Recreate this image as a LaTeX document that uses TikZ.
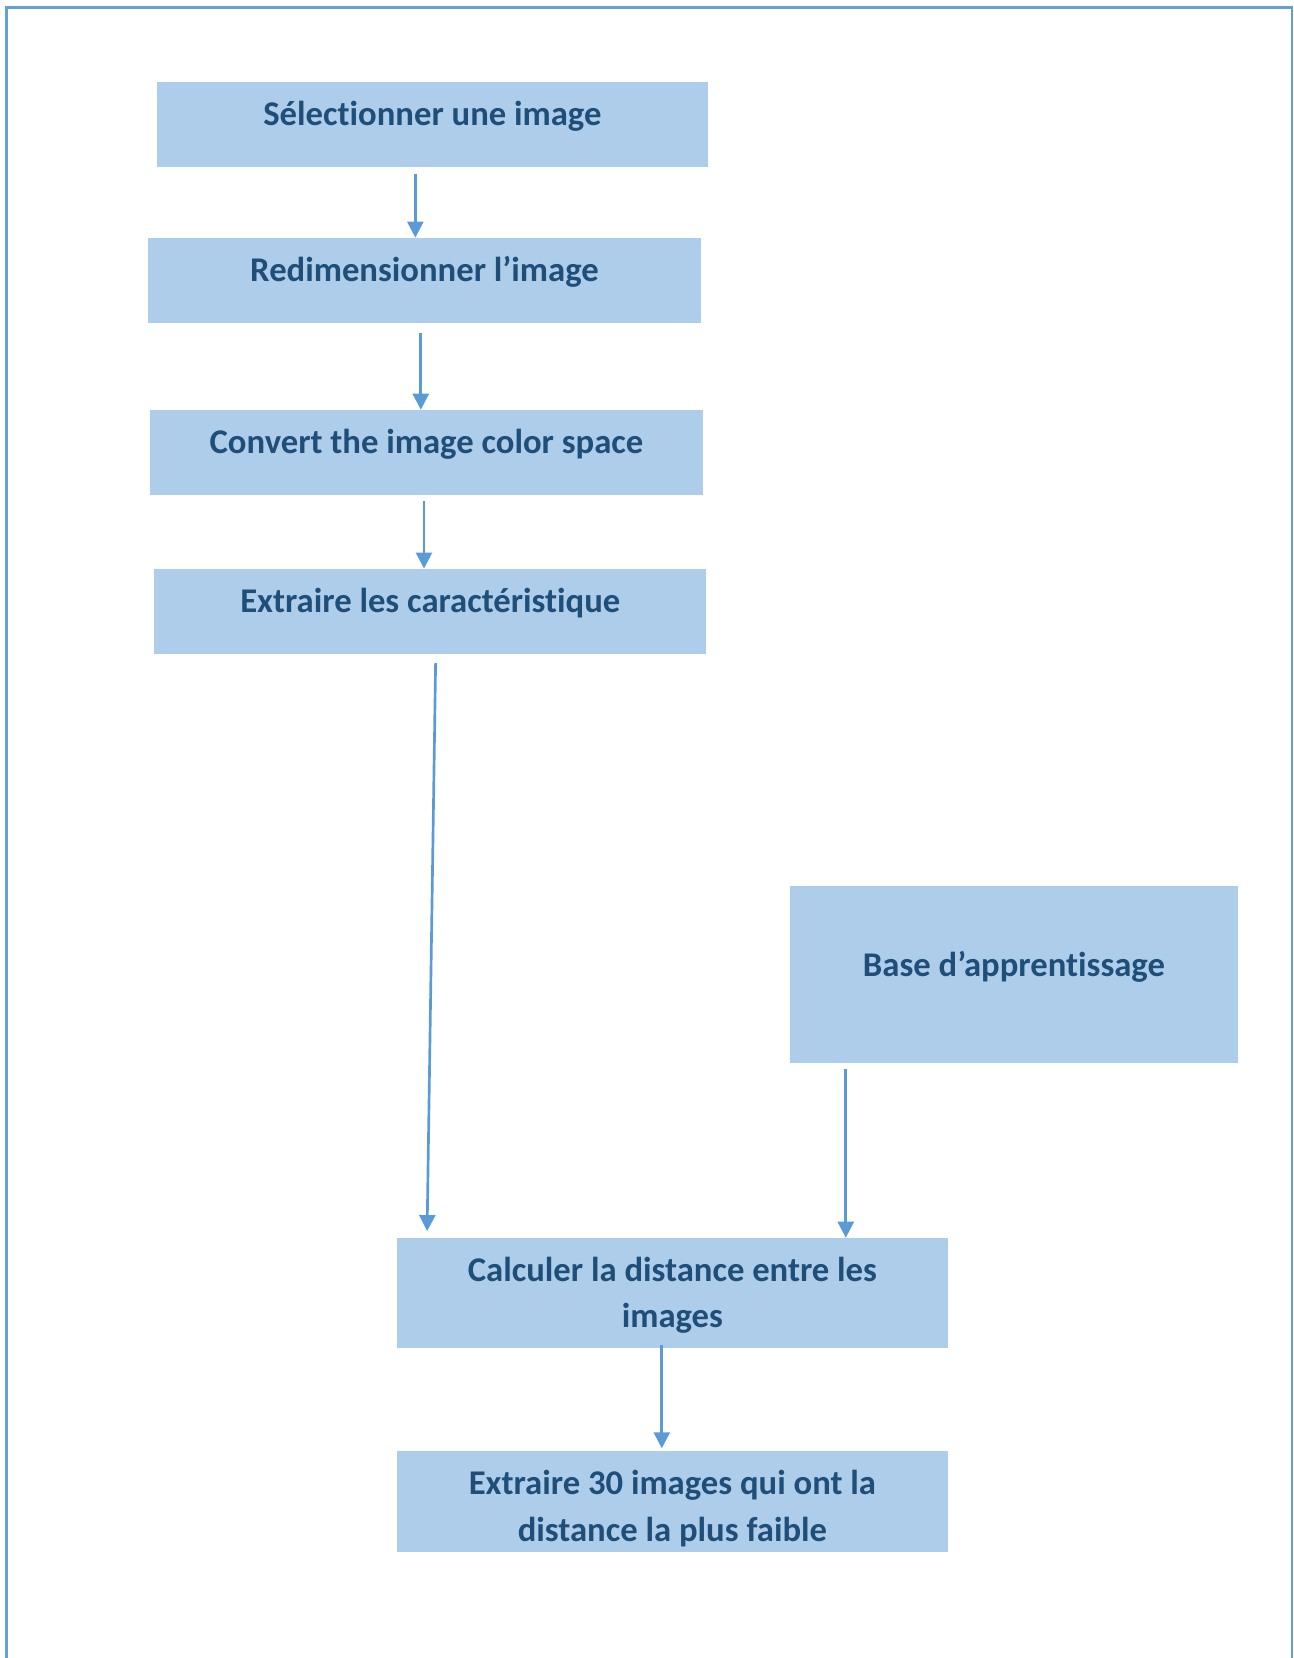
\documentclass[tikz,border=0pt]{standalone}
\usepackage{fontspec}
\setmainfont[Ligatures=NoCommon]{Carlito}
\usetikzlibrary{arrows.meta,fit}
\definecolor{boxfill}{HTML}{AECDEA}
\definecolor{txtblue}{HTML}{1F4E79}
\definecolor{linkblue}{HTML}{5B9BD5}
\definecolor{framecol}{HTML}{659FDA}
\tikzset{
  box/.style={fill=boxfill, draw=none, inner sep=0pt},
  txt/.style={font=\fontsize{26}{35}\selectfont\bfseries, text=txtblue, align=center, inner sep=0pt},
  link/.style={draw=linkblue, line width=2pt, -{Triangle[length=12pt,width=12pt]}},
  frame/.style={draw=framecol, line width=2pt}
}
\begin{document}
\begin{tikzpicture}[x=0.75pt,y=-0.75pt]
\useasboundingbox (0,0) rectangle (1294,1658);
\coordinate (fbl) at (6.3,1660);
\coordinate (fbr) at (1292,1660);
\draw[frame] (fbl) -- (6.3,7.4) -- (1292,7.4) -- (fbr);

\node[box, fit={(156.5,82.5) (708.3,167)}] (b1) {};
\node[box, fit={(148,237.9) (701,323.5)}] (b2) {};
\node[box, fit={(150,410) (703,494.8)}] (b3) {};
\node[box, fit={(154.4,568.8) (706.2,654.4)}] (b4) {};
\node[box, fit={(789.7,886) (1238,1062.5)}] (b5) {};
\node[box, fit={(396.5,1238) (948.3,1348)}] (b6) {};
\node[box, fit={(396.5,1450.6) (948.3,1552)}] (b7) {};

\node[txt] (t1) at (432.4,116.5) {Sélectionner une image};
\node[txt] (t2) at (424.5,272) {Redimensionner l’image};
\node[txt] (t3) at (426.5,444.2) {Convert the image color space};
\node[txt] (t4) at (430.3,602.8) {Extraire les caractéristique};
\node[txt] (t5) at (1013.9,966.5) {Base d’apprentissage};
\node[txt] (t6) at (672.4,1295.3) {Calculer la distance entre les\\images};
\node[txt] (t7) at (672.4,1508.8) {Extraire 30 images qui ont la\\distance la plus faible};

\draw[link] ([xshift=-12.8]b1.south |- 0,174.4) -- ([xshift=-12.8]b1.south |- b2.north);
\draw[link] (b2.south -| 420.8,0) ++(0,9.5) -- (b3.north -| 420.8,0);
\draw[link] (b3.south -| 424,0) ++(0,6.2) -- (b4.north -| 424,0);
\draw[link] (b4.south -| 435.6,0) ++(0,8.5) -- ([yshift=5pt]b6.north -| 427.1,0);
\draw[link] (b5.south -| 845.8,0) ++(0,6.5) -- (b6.north -| 845.8,0);
\draw[link] (b6.south -| 661.8,0) ++(0,-3.2) -- ([yshift=1.5pt]b7.north -| 661.8,0);
\end{tikzpicture}
\end{document}
